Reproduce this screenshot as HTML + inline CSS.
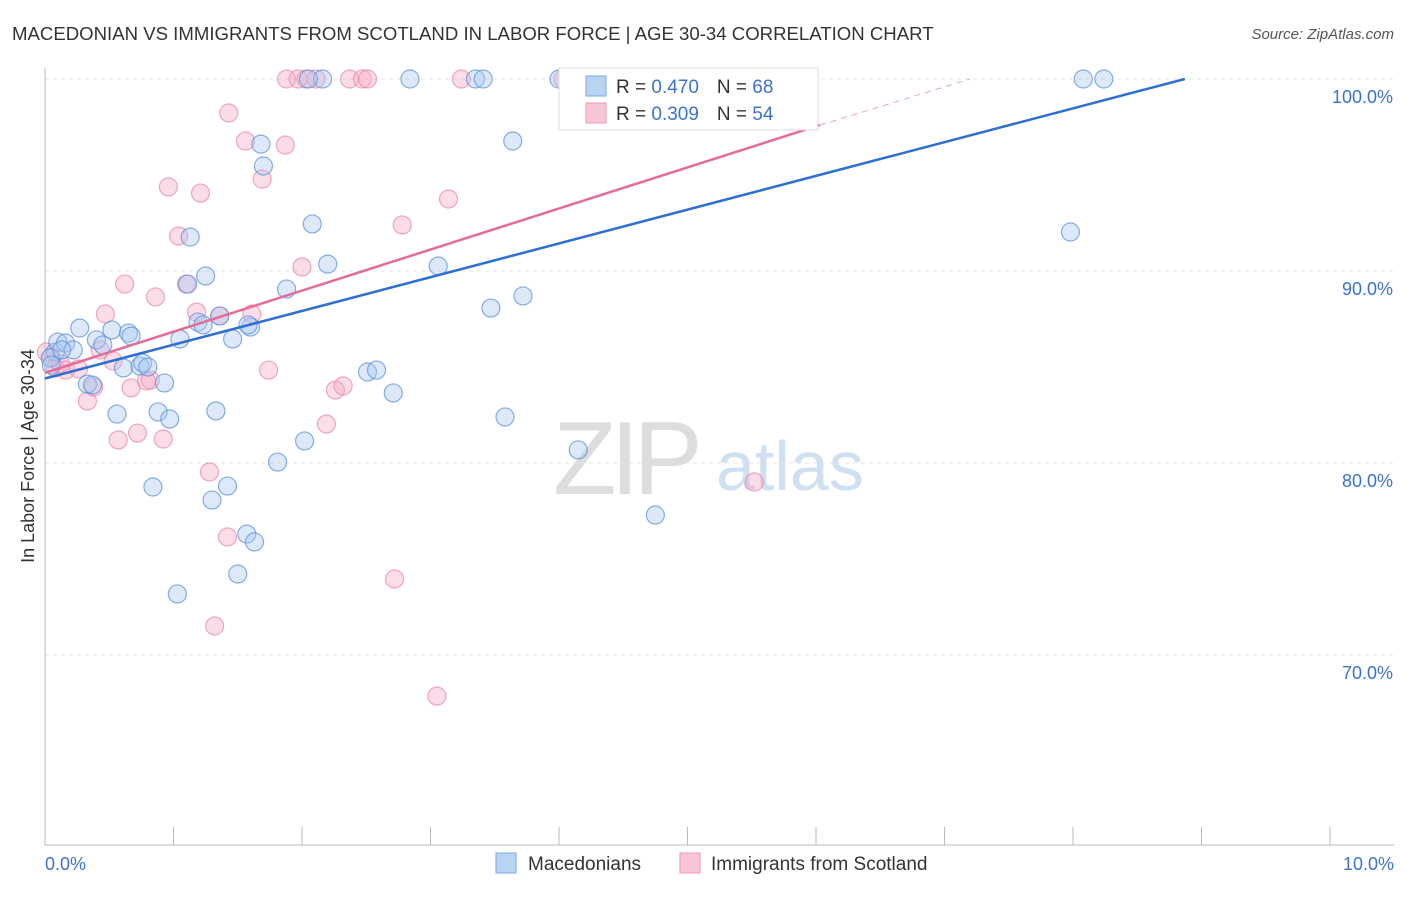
<!DOCTYPE html>
<html><head><meta charset="utf-8"><style>
body{margin:0;background:#fff;font-family:"Liberation Sans",sans-serif;}
svg text{font-family:"Liberation Sans",sans-serif;}
</style></head><body>
<svg id="c" width="1406" height="892" xmlns="http://www.w3.org/2000/svg">
<text x="12" y="40" font-size="18.6" fill="#333">MACEDONIAN VS IMMIGRANTS FROM SCOTLAND IN LABOR FORCE | AGE 30-34 CORRELATION CHART</text>
<text x="1394" y="39" font-size="15" fill="#555" text-anchor="end" font-style="italic">Source: ZipAtlas.com</text>
<g><text x="553" y="494" font-size="104" fill="#ddd" font-family="Liberation Serif" letter-spacing="-6">ZIP</text><text x="716" y="490" font-size="70" fill="#cfe0f3">atlas</text></g>
<g id="grid"></g><g id="axes"></g><g id="pts"></g><g id="lines"></g>
<text transform="translate(34,456) rotate(-90)" font-size="18" fill="#333" text-anchor="middle">In Labor Force | Age 30-34</text>
<text x="45" y="870" font-size="18" fill="#3b73d0">0.0%</text>
<text x="1394" y="870" font-size="18" fill="#3b73d0" text-anchor="end">10.0%</text>
<g>
<rect x="559" y="68" width="259" height="62" fill="#fff" stroke="#ddd"/>
<rect x="586" y="76" width="20" height="20" fill="#b9d3f3" stroke="#7fa8e0"/>
<rect x="586" y="103" width="20" height="20" fill="#f8c5d5" stroke="#ee9ab5"/>
<text x="616" y="93" font-size="19" fill="#333">R = <tspan fill="#3b73d0">0.470</tspan><tspan dx="18">N = </tspan><tspan fill="#3b73d0">68</tspan></text>
<text x="616" y="120" font-size="19" fill="#333">R = <tspan fill="#3b73d0">0.309</tspan><tspan dx="18">N = </tspan><tspan fill="#3b73d0">54</tspan></text>
</g>
<g>
<rect x="496" y="853" width="20" height="20" fill="#b9d3f3" stroke="#7fa8e0"/>
<text x="528" y="870" font-size="19" fill="#333">Macedonians</text>
<rect x="680" y="853" width="20" height="20" fill="#f8c5d5" stroke="#ee9ab5"/>
<text x="711" y="870" font-size="19" fill="#333">Immigrants from Scotland</text>
</g>
</svg>
<script>
const yTicks=[70,80,90,100];
const yTickLabels=["70.0%","80.0%","90.0%","100.0%"];
const blueX=[0.08,0.10,0.16,0.22,0.27,0.33,0.37,0.40,0.45,0.52,0.56,0.61,0.65,0.67,0.74,0.76,0.84,0.88,0.93,0.97,1.03,1.05,1.13,1.11,1.19,1.23,1.25,1.30,1.33,1.36,1.42,1.46,1.50,1.57,1.60,1.63,1.68,1.70,1.81,1.88,2.02,2.08,2.16,2.20,2.51,2.58,2.71,2.84,3.06,3.35,3.41,3.47,3.58,3.64,3.72,4.00,4.15,4.15,4.75,7.98,8.08,8.24,2.05,0.04,0.05,0.13,0.80,1.58];
const blueY=[85.78,86.30,86.25,85.89,87.03,84.11,84.06,86.41,86.15,86.93,82.55,84.95,86.77,86.61,85.05,85.21,78.75,82.66,84.17,82.29,73.18,86.46,91.77,89.32,87.34,87.19,89.74,78.07,82.71,87.66,78.80,86.46,74.22,76.30,87.08,75.89,96.61,95.47,80.05,89.06,81.15,92.45,100,90.36,84.74,84.84,83.65,100,90.26,100,100,88.07,82.40,96.77,88.70,100,100,80.68,77.29,92.03,100,100,100,85.47,85.10,85.89,85.00,87.19];
const pinkX=[0.05,0.08,0.12,0.16,0.26,0.33,0.38,0.43,0.47,0.53,0.57,0.62,0.67,0.72,0.79,0.82,0.86,0.92,0.96,1.04,1.10,1.18,1.21,1.28,1.32,1.36,1.42,1.43,1.56,1.61,1.69,1.74,1.87,1.88,1.97,2.00,2.03,2.11,2.19,2.26,2.32,2.37,2.47,2.51,2.72,2.78,3.05,3.14,3.24,4.03,4.16,4.48,5.52,0.01];
const pinkY=[85.52,84.95,85.16,84.84,84.90,83.23,83.96,85.89,87.76,85.31,81.20,89.32,83.91,81.56,84.27,84.32,88.65,81.25,94.38,91.82,89.32,87.86,94.06,79.53,71.51,87.66,76.15,98.23,96.77,87.76,94.79,84.84,96.56,100,100,90.21,100,100,82.03,83.80,84.01,100,100,100,73.96,92.40,67.86,93.75,100,100,100,100,79.01,85.78];
const blueTrend=[[0,84.4],[8.87,100]];
const pinkTrend=[[0,84.7],[6.03,97.6]];
const pinkDash=[[6.03,97.6],[7.2,100]];
const NS="http://www.w3.org/2000/svg";
const sx=v=>45+v*128.5, sy=v=>79+(100-v)*19.2;
function mk(t,a,p){const e=document.createElementNS(NS,t);for(const k in a)e.setAttribute(k,a[k]);p.appendChild(e);return e;}
const grid=document.getElementById('grid'),axes=document.getElementById('axes');
yTicks.forEach((t,i)=>{
 const l=mk('line',{x1:45,x2:1394,y1:sy(t),y2:sy(t),stroke:'#e3e3e3','stroke-dasharray':'4,4'},grid);
 
 
 const tx=mk('text',{x:1393,y:sy(t)+24,'font-size':18,fill:'#3b73d0','text-anchor':'end'},axes);
 tx.textContent=yTickLabels[i];
 
 
});
const ax=mk('line',{x1:45,x2:45,y1:68,y2:845,stroke:'#bbb'},axes);


const bx=mk('line',{x1:45,x2:1394,y1:845,y2:845,stroke:'#bbb'},axes);


for(let i=0;i<=10;i++){const t=mk('line',{x1:sx(i),x2:sx(i),y1:827,y2:845,stroke:'#bbb'},axes);
 
 }
const pts=document.getElementById('pts');
function dots(X,Y,f,s,n){X.forEach((x,i)=>{const c=mk('circle',{cx:sx(x),cy:sy(Y[i]),r:9,fill:f,'fill-opacity':0.4,stroke:s,'stroke-width':1.2,'stroke-opacity':0.75},pts);
 
 });}
dots(pinkX,pinkY,'#f5aac2','#ec8aab','scotland-point');
dots(blueX,blueY,'#a9c8f0','#5f93dc','macedonian-point');
const lines=document.getElementById('lines');
function ln(p,c,d,n){const l=mk('line',{x1:sx(p[0][0]),y1:sy(p[0][1]),x2:sx(p[1][0]),y2:sy(p[1][1]),stroke:c,'stroke-width':d?1:2.5,'stroke-dasharray':d?'6,5':'none'},lines);
 
 }
ln(blueTrend,'#2d6fd2',false,'macedonian-trendline');
ln(pinkTrend,'#e56c95',false,'scotland-trendline');
ln(pinkDash,'#eda3bb',true,'scotland-trendline-extension');
</script>
</body></html>
